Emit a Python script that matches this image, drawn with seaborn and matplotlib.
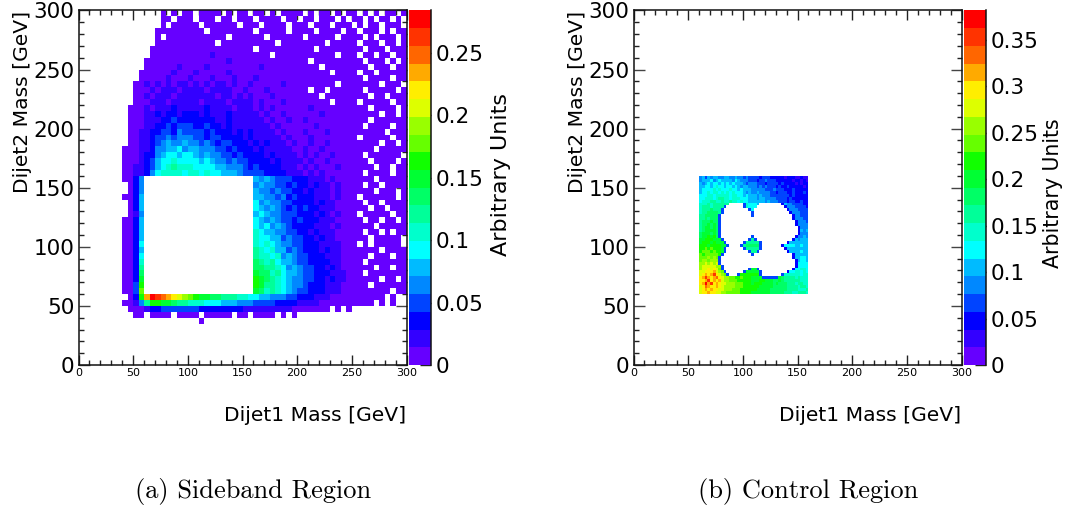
import numpy as np
import matplotlib
matplotlib.use("Agg")
import matplotlib.pyplot as plt
from matplotlib.colors import ListedColormap
from matplotlib.ticker import FixedLocator
import seaborn as sns

# Hand-read colour band per cell ('.' = empty, 0-9 a-j = band 0..19), top row first.
# Sideband: 5 GeV cells over 0-300 x 0-300
SIDEBAND_ROWS = [
".......... .....0.0.0 0.0000.0.0 0.00.0.000 0.0.00.0.0 0.0.0.00.0",
".......... .....00.00 0.000.00.0 00.0000.00 .00.000.0. 00.0.00.0.",
".......... .....0.000 00.000000. 000.0000.0 00.000.000 .0.00.000.",
".......... ....000000 000.000000 00.00000.0 000.0000.0 0.000.0.00",
".......... ....0.0000 0000000.00 0000.00000 0.00000.00 00.0.000.0",
".......... ....000000 00000.0000 000000.000 00000.0000 0.000.00.0",
".......... ...0000000 0000000000 00.0000000 000.000000 00.000.000",
".......... ...0000000 0000100000 00000.0000 0000000.00 0.00.00.00",
".......... ..00000000 0000000100 0000000000 00.0000000 00.000.0.0",
".......... ..00000010 0001000000 0001000000 0000.00000 000.000.00",
".......... .000000100 0100000100 0000000000 000000.000 0.00.00000",
".......... .000001000 1000100010 0010000000 0000000000 00.0000.00",
".......... 0010101011 0101011010 0100000100 0000000.00 00000.000.",
".......... 0001011101 1110111100 1000100000 00.00.0000 00.00000.0",
".......... 0010111011 1111101101 0100010000 0000.00000 000.00.000",
".......... 0001110111 1101111011 1101000100 000000.000 0.00000.00",
".........0 0010111211 1112111101 1101010000 0010000000 000.0000.0",
".........0 0011212212 2212111211 1110100100 0000100000 00000.00.0",
".........0 0011122322 2222211211 1111010010 0100000000 000.000000",
".........0 0011223233 3223221211 1111101000 0001000000 00.0000.00",
".........0 0112233243 3332322212 1211110100 0100010000 000000.000",
".........0 0112334344 4332332222 1211111010 0010000000 0.00000.00",
".........0 0112345445 4434323322 2121211101 0010010000 00000.00.0",
"........00 0112445564 5544433232 2212111110 0100100000 0000.00000",
"........00 0122456656 6545443323 2222121111 0101001000 00.000000.",
"........00 0123566766 6656544343 3222212111 1010010000 000.0000.0",
"........00 1123567877 7666655444 3232222111 0101000100 0000.00.00",
"........00 1124677776 7767665554 3333222211 1010100000 00.0000.00",
"........00 24........ .......... ..54543332 2211101000 0000.00000",
".........0 24........ .......... ..45443323 2212110100 00.00.0000",
".........0 24........ .......... ..54434332 2121110100 0000.000.0",
"........00 25........ .......... ..55443423 2221110100 0.000000.0",
".........0 25........ .......... ..64544332 2221211000 00.00.0000",
".........0 25........ .......... ..65454323 2322111000 000.00.000",
".........0 14........ .......... ..56544333 2221210100 0.00000.00",
"........00 25........ .......... ..65454332 3222111000 00.00.00.0",
"........00 25........ .......... ..65645432 2221110100 0000.00000",
"........00 25........ .......... ..76554433 2212111000 00.00.0.00",
"........00 25........ .......... ..76655343 3221211000 000.00000.",
"........00 26........ .......... ..76765443 3222111100 0.0.00000.",
"........00 25........ .......... ..87675534 3222121100 00000.0000",
"........00 26........ .......... ..87767454 3322211100 000.000.00",
"........00 27........ .......... ..98786554 3322221100 00.0000000",
"........00 28........ .......... ..99887645 4332212100 0000.00.00",
"........00 29........ .......... ..a9978655 4332221110 00.0000000",
"........00 2a........ .......... ..ba987654 4332212110 00000.00.0",
"........00 3b........ .......... ..ba887654 4322211100 000.000000",
"........00 3c........ .......... ..a9787654 3322211100 0000000.00",
".........0 2bgjihgfed cbaa998887 7665544433 2221110000 000000.0..",
"........00 148bbaa988 7776665554 4433332222 1111000000 0000.0.0..",
".........0 0012233333 3322222222 1111111110 000000.0.0 ..........",
".......... 00.0000.00 00.00000.0 0.0000.0.0 .......... ..........",
".......... .......... ..0....... .......... .......... ..........",
".......... .......... .......... .......... .......... ..........",
".......... .......... .......... .......... .......... ..........",
".......... .......... .......... .......... .......... ..........",
".......... .......... .......... .......... .......... ..........",
".......... .......... .......... .......... .......... ..........",
".......... .......... .......... .......... .......... ..........",
".......... .......... .......... .......... .......... ..........",
]

# Control: 2.5 GeV cells over 60-160 x 60-160
CONTROL_ROWS = [
"4535455445 5445443433 3323332222 2122211211",
"4555645655 5546544433 3233433322 2222122121",
"5456566565 6565554344 4333233332 3222212122",
"5566567665 6656545544 4343433323 2232222212",
"5666676766 6766565554 4444333433 3222322222",
"5667677676 7676665454 4544443323 3322322232",
"6667767777 7677665655 5454443333 3332322222",
"6677767887 7677766655 5455444433 3323222222",
"6777887787 7877676655 5555454443 3323322322",
"7778788888 8.....3766 65........ 2544333322",
"7888788883 ......3766 6......... .244433332",
"788898883. ........36 .......... ..24443333",
"788999983. .........3 .......... ...2444333",
"88999993.. .........3 .......... ....244333",
"88989993.. .......... .......... ....244433",
"8999a993.. .......... .......... .....24443",
"899a9a93.. .......... .......... .....24444",
"89aa9a93.. .......... .......... ......2444",
"89aaaa93.. .......... .......... ......2545",
"9aaa9a93.. .......... .......... ......2444",
"9aabab93.. .........3 .......... .....24454",
"aabbbaaa3. ........38 3......... ....254555",
"abbbabaaa3 ......3888 883....... ..25555555",
"bbbabbbbaa 3....38999 993....... 2666655655",
"bbcbcbbba3 ......3888 883....... .255555555",
"bcccbcbba3 ........38 83........ ..25555655",
"cbcccccb3. .........3 .......... ....255555",
"cccdcdc3.. .......... .......... ....255665",
"cddcddd3.. .......... .......... .....25665",
"ddedede3.. .......... .......... .....26666",
"deeeeedd3. .......... .......... .....26666",
"deefefec3. ........3a a3........ ....266776",
"eefffgedc3 ......3aaa aa3....... ..26677676",
"efgfgifedc 3...3bbbbb bb3....... 3777777677",
"fgigfghfed dccbbcbbba aaa333333a 9888878777",
"ffgifgfged dcccbbbbba aabbaaa99a 9888888777",
"fgjgifgfee dddcccbbba bbbaaaa9a9 9988878877",
"efhgffgfed dddcccbbbb bbaaaaa999 9988887887",
"efgfgffeed ddcccbbbbb baaaaa9999 9988887778",
"effgffeedd cccccbbbba aaaaaa9999 9888778887",
]

BAND_COLORS = ["#6600ff", "#3300ff", "#0000ff", "#0044ff", "#0088ff",
               "#00bbff", "#00ffff", "#00ffcc", "#00ff99", "#00ff66",
               "#00ff33", "#11ff00", "#66ff00", "#99ff00", "#ddff00",
               "#ffee00", "#ffaa00", "#ff6600", "#ff3300", "#ff0000"]
MASS_TICKS = [0, 50, 100, 150, 200, 250, 300]
LEFT_Z_TICKS = [0, 0.05, 0.1, 0.15, 0.2, 0.25]
RIGHT_Z_TICKS = [0, 0.05, 0.1, 0.15, 0.2, 0.25, 0.3, 0.35]
LEFT_Z_MAX = 0.284
RIGHT_Z_MAX = 0.3816
X_TITLE = "Dijet1 Mass [GeV]"
Y_TITLE = "Dijet2 Mass [GeV]"
Z_TITLE = "Arbitrary Units"
CAPTIONS = ["(a) Sideband Region", "(b) Control Region"]

W, H = 1076, 511
sns.set_theme(style="white")
plt.rcParams["font.family"] = ["DejaVu Sans"]
plt.rcParams["axes.unicode_minus"] = False
plt.rcParams["text.color"] = "black"
plt.rcParams["axes.labelcolor"] = "black"
plt.rcParams["xtick.labelcolor"] = "black"
plt.rcParams["ytick.labelcolor"] = "black"
DIGITS = "0123456789abcdefghij"


def decode(rows, zmax):
    grid = []
    for row in rows:
        chars = row.replace(" ", "")
        grid.append([np.nan if c == "." else (DIGITS.index(c) + 0.5) * zmax / 20 for c in chars])
    return np.array(grid)


def axes_px(fig, x0, x1, y0, y1):
    return fig.add_axes([x0 / W, 1 - y1 / H, (x1 - x0) / W, (y1 - y0) / H])


def panel(fig, matrix, bin_w, zmax, zticks, x0, x1, cx0, cx1, z_x, z_y, z_size):
    y0, y1 = 10.5, 365
    ax = axes_px(fig, x0, x1, y0, y1)
    cax = axes_px(fig, cx0, cx1, y0, y1)
    sns.heatmap(matrix, ax=ax, cbar_ax=cax, cmap=ListedColormap(BAND_COLORS),
                vmin=0, vmax=zmax, xticklabels=False, yticklabels=False,
                linewidths=0, rasterized=True)
    n = matrix.shape[0]
    ax.set_xticks([v / bin_w for v in MASS_TICKS])
    ax.set_xticklabels([str(v) for v in MASS_TICKS], fontsize=8)
    ax.set_yticks([n - v / bin_w for v in MASS_TICKS])
    ax.set_yticklabels([str(v) for v in MASS_TICKS], fontsize=15.5)
    minors = [m for m in range(0, 301, 10) if m % 50]
    ax.xaxis.set_minor_locator(FixedLocator([m / bin_w for m in minors]))
    ax.yaxis.set_minor_locator(FixedLocator([n - m / bin_w for m in minors]))
    ax.tick_params(axis="x", which="major", direction="in", length=7, width=1,
                   top=True, bottom=True, pad=2, color="#222222")
    ax.tick_params(axis="y", which="major", direction="in", length=8, width=1,
                   left=True, right=True, pad=3, color="#444444")
    ax.tick_params(axis="both", which="minor", direction="in", length=3.8, width=1,
                   top=True, bottom=True, left=True, right=True, color="#222222")
    for s in ax.spines.values():
        s.set_visible(True)
        s.set_linewidth(1.1)
        s.set_color("#111111")
    ax.set_xlabel(X_TITLE, loc="right", fontsize=14.6, labelpad=20)
    ax.set_ylabel(Y_TITLE, loc="top", fontsize=14.6, labelpad=1)
    cax.set_yticks(zticks)
    cax.set_yticklabels([f"{t:g}" for t in zticks], fontsize=15.5)
    cax.tick_params(axis="y", direction="in", length=8, width=1, right=True,
                    left=False, pad=3, color="#222222")
    for s in cax.spines.values():
        s.set_visible(False)
    cax.spines["right"].set_visible(True)
    cax.spines["right"].set_linewidth(1.1)
    cax.spines["right"].set_color("#111111")
    fig.text(z_x / W, 1 - z_y / H, Z_TITLE, rotation=90, ha="center", va="center",
             fontsize=z_size)
    return ax


fig = plt.figure(figsize=(W / 100, H / 100), dpi=100, facecolor="white")

left = decode(SIDEBAND_ROWS, LEFT_Z_MAX)
control = decode(CONTROL_ROWS, RIGHT_Z_MAX)
right = np.full((120, 120), np.nan)
right[56:96, 24:64] = control

panel(fig, left, 5, LEFT_Z_MAX, LEFT_Z_TICKS, 78.5, 406.5, 409, 431, 501, 174, 16)
panel(fig, right, 2.5, RIGHT_Z_MAX, RIGHT_Z_TICKS, 633.5, 961.5, 964, 986, 1053, 193, 14.8)

for text, cx in zip(CAPTIONS, [253, 808]):
    fig.text(cx / W, 1 - 491 / H, text, ha="center", va="center",
             family=["cmr10", "Liberation Serif"], fontsize=19)

fig.savefig("out.png", dpi=100)
